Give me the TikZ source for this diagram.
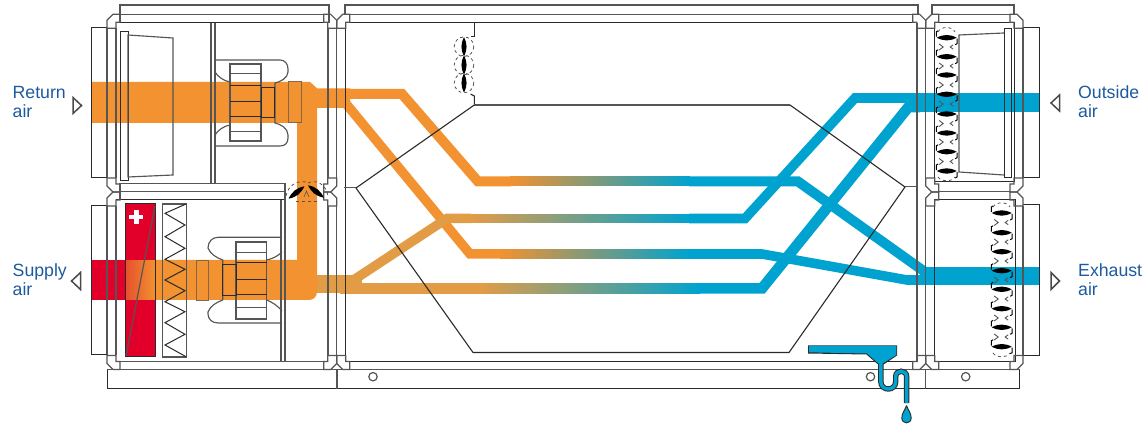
\documentclass[tikz,border=0pt]{standalone}
\usepackage{fontspec}
\setmainfont{Liberation Sans}
\definecolor{warm}{HTML}{F29230}
\definecolor{warmlt}{HTML}{E39C46}
\definecolor{cold}{HTML}{00A3CF}
\definecolor{hot}{HTML}{E2002B}
\definecolor{heat}{HTML}{E5502D}
\definecolor{lab}{HTML}{1C5AA0}
\definecolor{dk}{HTML}{2A2A2A}
\definecolor{gr}{HTML}{555555}
\tikzset{
  dkline/.style={draw=dk,line width=1pt},
  grline/.style={draw=gr,line width=1.15pt},
  flow/.style={line width=#1,line join=miter,line cap=butt},
  airlabel/.style={text=lab,align=left,inner sep=0pt,font=\fontsize{17.7}{18.6}\selectfont},
  tri/.style={draw=dk!85,line width=1.5pt,fill=white,line join=miter},
  chev/.style={draw=gr,line width=0.9pt},
  hookl/.style={draw=black,line width=1pt},
  dashl/.style={draw=gr,line width=0.8pt,dash pattern=on 3pt off 3pt},
}
\newcommand\cornerpc[4]{\draw[grline,shift={(#1,#2)},xscale=#3,yscale=#4] (0,14)--(0,6)--(6,0)--(13,0)--(13,8)--(9,8)--(9,14)--cycle;}
\newcommand\blade[4]{\fill[black,shift={(#1,#2)},rotate=#3,scale=#4] (-10,0) .. controls (-3,-3.6) and (3,-3.6) .. (10,0) .. controls (3,3.6) and (-3,3.6) .. (-10,0);}
\newcommand\coldamper[2]{%
  \foreach \by in {#2}{
    \blade{#1}{\by}{0}{1}
    \draw[hookl] (#1-8.5,\by-7)--(#1-10.3,\by-6)--(#1-10.3,\by-1);
    \draw[hookl] (#1+8.5,\by+7)--(#1+10.3,\by+6)--(#1+10.3,\by+1);
  }
}
\newcommand\colchev[2]{%
  \foreach \by in {#2}{
    \draw[chev] (#1-7.5,\by-3)--(#1-3.5,\by)--(#1-7.5,\by+3);
    \draw[chev] (#1+6.5,\by-2.2)--(#1+3.5,\by)--(#1+6.5,\by+2.2);
  }
}
% gradient band made of narrow slices: x0 x1 y0 y1 colA colB
\newcommand\gradband[6]{%
  \pgfmathsetmacro\gstep{(#2-#1)/60}
  \foreach \gi in {0,...,59}{
    \pgfmathsetmacro\gp{(\gi+0.5)*100/60}
    \pgfmathsetmacro\gxa{#1+\gi*\gstep}
    \pgfmathsetmacro\gxb{#1+(\gi+1)*\gstep+0.4}
    \fill[#6!\gp!#5] (\gxa,#3) rectangle (\gxb,#4);
  }
}
\begin{document}
\begin{tikzpicture}[x=1pt,y=-1pt]
\useasboundingbox (0,0) rectangle (1148,427);

% ---------- air flows: colour first, lines on top
\draw[warm,flow=10pt] (330,94)--(402,94)--(478,181.5)--(511,181.5);
\draw[warm,flow=9.5pt] (338,94)--(470,254)--(501,254);
\fill[warmlt] (317,275) rectangle (362,293.5);
\draw[warmlt,flow=9.5pt] (352,281)--(447,218.5)--(471,218.5);
\fill[warmlt] (340,283) rectangle (481,293.8);
\path[fill=warm] (91,82)--(310,82)--(317,88.3)--(350,88.3)--(350,108)--(317,108)
  --(317,292) .. controls (317,297) and (313,300) .. (309,300)
  --(155,300)--(155,260)--(297,260)--(297,123)--(91,123)--cycle;

% gradients towards the blue side
\gradband{510}{690}{176.5}{186.5}{warm}{cold}
\gradband{470}{690}{213.7}{223.3}{warmlt}{cold}
\gradband{500}{690}{249.2}{258.8}{warm}{cold}
\gradband{480}{700}{283}{293.7}{warmlt}{cold}

% blue side
\draw[cold,flow=10pt] (689,181.5)--(798,181.5)--(925,272);
\draw[cold,flow=9.6pt] (689,218.5)--(745,218.5)--(855,98)--(915,98);
\draw[cold,flow=9.6pt] (689,254)--(762,254)--(907,280)--(925,280);
\draw[cold,flow=10.7pt] (699,288.4)--(762,288.4)--(908.5,107)--(920,107);
\fill[cold] (905,93) rectangle (1039,112);
\fill[cold] (920,267) rectangle (1039,285.5);

% heater and red stream
\fill[hot] (125.5,203.5) rectangle (155,357);
\fill[hot] (91,260) rectangle (126,300);
\gradband{125.5}{155.5}{260}{300}{heat}{warm}
\fill[white] (134.2,210) rectangle (138.5,224);
\fill[white] (129.3,214.8) rectangle (143.3,219.2);
\draw[dkline] (125.5,203.5) rectangle (155,357);
\draw[gr,line width=1.2pt] (155,206)--(126,356);

% ---------- casing
% rails
\draw[grline] (120,5) rectangle (329,14.3);
\draw[grline] (345,5) rectangle (918,14.3);
\draw[grline] (932,5) rectangle (1014,14.3);
\draw[grline] (120,14.3)--(120,23);
\draw[grline] (329,14.3)--(329,23);
% top lines
\draw[dkline] (116,23)--(328,23);
\draw[dkline] (345,23)--(917,23);
\draw[dkline] (934,23) rectangle (1014,181.5);
\draw[dkline] (934,200) rectangle (1015,362);
% outer verticals
\draw[grline] (107,28)--(107,178) (116,28)--(116,178);
\draw[grline] (107,206)--(107,355) (116,206)--(116,355);
\draw[grline] (328,28)--(328,178) (336.7,28)--(336.7,178);
\draw[grline] (328,206)--(328,355) (336.7,206)--(336.7,355);
\draw[dkline] (345,23)--(345,362);
\draw[grline] (917,23)--(917,362);
\draw[grline] (925.7,28)--(925.7,178) (925.7,206)--(925.7,355);
\draw[grline] (1023,28)--(1023,178) (1023,206)--(1023,355);
% side boxes
\draw[dkline] (107,28)--(91,28)--(91,178)--(107,178);
\draw[dkline] (107,206)--(91,206)--(91,355)--(107,355);
\draw[dkline] (1023,28)--(1039,28)--(1039,178)--(1023,178);
\draw[dkline] (1023,205)--(1039,205)--(1039,356)--(1023,356);
% horizontal rail between upper and lower sections
\draw[grline] (120,183.3)--(285,183.3) (120,191.7)--(285,191.7);
\draw[dkline] (116,200)--(285,200);
\draw[grline] (120,183.3)--(120,200) (285,183.3)--(285,200);
\draw[grline] (939,191.7)--(1010,191.7);
% bottom lines
\draw[grline] (116,361.7)--(328,361.7);
\draw[dkline] (345,361.7)--(917,361.7);
\draw[grline] (120,369.5)--(1010,369.5);
% base
\draw[dkline] (107,369.5)--(107,388.5)--(1019.5,388.5)--(1019.5,369.5);
\draw[grline] (107,369.5)--(1019.5,369.5);
\draw[grline] (337,369.5)--(337,388.5) (925.7,369.5)--(925.7,388.5);
\draw[gr,line width=1.2pt] (373,376.7) circle (4.2) (870.5,376.7) circle (4.2) (965.7,376.7) circle (4.2);
% corner pieces
\cornerpc{107}{14.3}{1}{1}
\cornerpc{336.7}{14.3}{-1}{1}
\cornerpc{336.7}{14.3}{1}{1}
\cornerpc{925.7}{14.3}{-1}{1}
\cornerpc{925.7}{14.3}{1}{1}
\cornerpc{1023}{14.3}{-1}{1}
\cornerpc{107}{192}{1}{-1}
\cornerpc{107}{192}{1}{1}
\cornerpc{336.7}{192}{-1}{-1}
\cornerpc{336.7}{192}{-1}{1}
\cornerpc{925.7}{192}{1}{-1}
\cornerpc{925.7}{192}{1}{1}
\cornerpc{1023}{192}{-1}{-1}
\cornerpc{1023}{192}{-1}{1}
\cornerpc{107}{369.5}{1}{-1}
\cornerpc{336.7}{369.5}{-1}{-1}
\cornerpc{336.7}{369.5}{1}{-1}
\cornerpc{925.7}{369.5}{-1}{-1}
\cornerpc{925.7}{369.5}{1}{-1}
\cornerpc{1023}{369.5}{-1}{-1}
% partitions
\draw[grline] (211,23)--(211,184) (215,23)--(215,184);
\draw[grline] (281,200)--(281,361.5) (285,200)--(285,361.5);

% ---------- upper filter
\draw[dkline] (120,32) rectangle (128,181);
\draw[grline] (128,35)--(173,38)--(173,175)--(128,177)--cycle;

% ---------- upper fan
\draw[grline] (215,60)--(280,60) .. controls (285,60) and (288,64) .. (288,69)--(288,72)
  .. controls (288,78) and (280,82) .. (275,83)--(275,123)
  .. controls (280,124) and (288,128) .. (288,135)--(288,138)
  .. controls (288,143) and (285,146) .. (280,146)--(215,146);
\draw[grline] (215,72) .. controls (218,77) and (224,81) .. (230,82);
\draw[grline] (215,135) .. controls (218,130) and (224,126) .. (230,125);
\draw[grline] (230,64) rectangle (261,141);
\draw[grline,line width=.9pt] (230,73.5)--(261,73.5) (230,131.5)--(261,131.5);
\draw[dkline] (230,86)--(261,86) (230,101.7)--(261,101.7) (230,117)--(261,117);
\draw[dkline] (261,88) rectangle (274,118);
\draw[draw=gr!70!warm,line width=1pt] (288,82) rectangle (301.5,123);

% ---------- cooler
\draw[grline] (162.5,204) rectangle (186.5,357);
\draw[dk,line width=1pt] (186,204)--(165,213.3)--(185,225)--(165,236.7)--(185,248.3)--(165,259.3)--(185,269.3)--(165,280)--(185,290.7)--(165,301.7)--(185,311.7)--(165,322.7)--(185,334.3)--(165,345)--(186,356.7);

% ---------- lower fan
\draw[grline] (282,237.3)--(218,237.3) .. controls (212,237.3) and (208,242) .. (208,248)
  .. controls (210,254) and (217,258) .. (222.7,260)--(222.7,300)
  .. controls (217,302) and (210,306) .. (208,312)--(208,314)
  .. controls (208,319) and (212,323) .. (218,323)--(282,323);
\draw[grline] (282,252) .. controls (278,256) and (272,259) .. (266.7,260);
\draw[grline] (282,311) .. controls (278,306) and (272,302) .. (266.7,300);
\draw[grline] (236,242) rectangle (266.7,319);
\draw[grline,line width=.9pt] (236,252)--(266.7,252) (236,307.5)--(266.7,307.5);
\draw[dkline] (236,263)--(266.7,263) (236,279.3)--(266.7,279.3) (236,295)--(266.7,295);
\draw[dkline] (222.7,265) rectangle (236,296);
\draw[draw=gr!70!warm,line width=1pt] (196,260.3) rectangle (208.5,300.5);

% ---------- right filter
\draw[dkline] (1004,29) rectangle (1011.5,178);
\draw[grline] (1004,33)--(959,35)--(959,172)--(1004,175);

% ---------- exchanger hexagon
\draw[dk,line width=1.1pt] (474.3,23)--(474.3,36.5)--(470.5,36.5);
\draw[dk,line width=1.1pt] (470.5,94)--(474.3,96)--(474.3,105);
\draw[gr,line width=1.2pt] (474.3,105)--(790,105);
\draw[dk,line width=1.1pt] (474.3,105)--(356,188)--(473,352.5)--(789,352.5)--(905,187)--(790,105);
\draw[gr,line width=1pt] (344,188)--(356,188) (905,187)--(917,187);

% ---------- dampers
\coldamper{946.7}{37.7,56.7,75,94.3,114,133,151.7,171}
\colchev{946.7}{47,66,85,104,123.5,142,161.5}
\draw[dashl] (938,32) .. controls (941,26) and (952,26) .. (955,32);
\draw[dashl] (938,177) .. controls (941,182) and (952,182) .. (955,177);
\coldamper{1001.7}{213,232.7,251.7,270.7,289.3,308.7,327.3,346.7}
\colchev{1001.7}{222.5,242,261,280,299,318,337}
\draw[dashl] (993,207) .. controls (996,201.5) and (1007,201.5) .. (1010,207);
\draw[dashl] (993,353) .. controls (996,358) and (1007,358) .. (1010,353);
\blade{464}{46.7}{90}{0.95}
\blade{464}{65}{90}{0.95}
\blade{464}{83}{90}{0.95}
\draw[dashl] (464,46.7) circle (9.8) (464,65) circle (9.8) (464,83) circle (9.8);
\blade{296.5}{192.5}{38}{1}
\blade{316}{191.5}{-38}{1}
\draw[gr,line width=.6pt] (304,197)--(306.5,191)--(309,197);
\draw[dashl] (286,196) .. controls (288,184) and (300,179) .. (308,183);
\draw[dashl] (308,183) .. controls (316,179) and (326,184) .. (328,196);
\draw[dashl] (296,201.5)--(319,201.5);

% ---------- condensate drain
\draw[dk,line width=5.4pt] (880.8,362)--(880.8,381.5) .. controls (880.8,391.5) and (895.7,391.5) .. (895.7,381.5)--(895.7,376.5)
  .. controls (895.7,369.5) and (906.6,369.5) .. (906.6,376.5)--(906.6,403);
\fill[dk] (808,345.5)--(897,345.5)--(897,355.5)--(883.5,364.5)--(877.5,364)--(866.5,354.5)--(808,353.5)--cycle;
\fill[cold] (809,346)--(896.3,346)--(896.3,355)--(882.7,363.5)--(878.5,363.5)--(867,353.5)--(809,352.3)--cycle;
\draw[cold,line width=3.4pt] (880.8,361)--(880.8,381.5) .. controls (880.8,391.5) and (895.7,391.5) .. (895.7,381.5)--(895.7,376.5)
  .. controls (895.7,369.5) and (906.6,369.5) .. (906.6,376.5)--(906.6,403);
\draw[dk,line width=.9pt,fill=cold] (906.5,405.5) .. controls (905,410) and (901.8,413) .. (901.8,418) .. controls (901.8,424.5) and (911.2,424.5) .. (911.2,418) .. controls (911.2,413) and (908,410) .. (906.5,405.5);

% ---------- direction marks
\draw[tri] (73,97.5)--(81.5,105.5)--(73,113.5)--cycle;
\draw[tri] (80.5,272.5)--(71.5,281)--(80.5,289.5)--cycle;
\draw[tri] (1059.5,95)--(1051,103)--(1059.5,111)--cycle;
\draw[tri] (1051,272.5)--(1059.5,281)--(1051,289.5)--cycle;

% ---------- labels
\node[airlabel,anchor=north west] (ret) at (12.5,86.5) {Return\\air};
\node[airlabel,anchor=north west] (sup) at (12.5,263.5) {Supply\\air};
\node[airlabel,anchor=north west] (out) at (1078,85.5) {Outside\\air};
\node[airlabel,anchor=north west] (exh) at (1078,263.5) {Exhaust\\air};
\end{tikzpicture}
\end{document}
